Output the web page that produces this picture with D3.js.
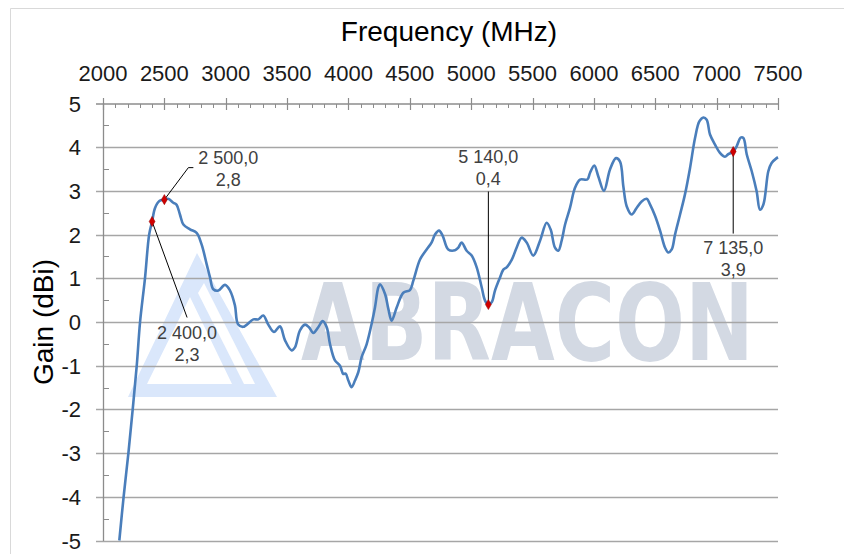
<!DOCTYPE html>
<html>
<head>
<meta charset="utf-8">
<script src="https://cdn.jsdelivr.net/npm/d3@7"></script>
<style>
  body { margin: 0; background: #fff; }
  svg { display: block; font-family: "Liberation Sans", Arial, sans-serif; }
</style>
</head>
<body>
<svg id="chart"></svg>
<script>
// gain curve
var freq = [2133, 2168, 2207, 2242, 2275, 2302, 2342, 2376, 2400, 2424, 2459, 2500, 2530, 2573, 2600, 2627, 2655, 2709, 2763, 2804,
    2845, 2872, 2899, 2940, 2994, 3035, 3075, 3100, 3143, 3225, 3265, 3306, 3347, 3393, 3442, 3483, 3537, 3564, 3605, 3646,
    3678, 3714, 3754, 3790, 3823, 3850, 3890, 3931, 3958, 3977, 3999, 4026, 4053, 4080, 4108, 4148, 4189, 4216, 4243, 4257,
    4298, 4325, 4352, 4393, 4447, 4501, 4528, 4583, 4637, 4678, 4705, 4738, 4768, 4813, 4868, 4895, 4922, 4963, 5004, 5045,
    5086, 5113, 5140, 5167, 5194, 5235, 5262, 5289, 5330, 5370, 5411, 5452, 5506, 5561, 5615, 5647, 5683, 5710, 5737, 5765,
    5805, 5846, 5887, 5946, 5968, 6003, 6036, 6082, 6131, 6180, 6213, 6240, 6267, 6308, 6348, 6389, 6430, 6457, 6498, 6539,
    6580, 6607, 6634, 6661, 6702, 6742, 6783, 6824, 6859, 6892, 6919, 6946, 6987, 7027, 7068, 7095, 7135, 7163, 7196, 7218,
    7245, 7286, 7326, 7353, 7381, 7421, 7448, 7489, 7500];
var gain = [-5.0, -4.0, -3.0, -2.0, -1.0, 0.0, 1.0, 2.0, 2.3, 2.61, 2.77, 2.8, 2.82, 2.73, 2.68, 2.46, 2.23, 2.12, 2.04, 1.77,
    1.32, 1.02, 0.75, 0.72, 0.85, 0.72, 0.38, -0.05, -0.11, 0.06, 0.06, 0.15, -0.06, -0.23, -0.10, -0.42, -0.65, -0.58, -0.19, -0.06,
    -0.12, -0.25, -0.12, 0.02, -0.12, -0.51, -0.88, -1.0, -1.19, -1.18, -1.34, -1.49, -1.34, -1.15, -0.80, -0.51, -0.04, 0.33, 0.79, 0.86,
    0.64, 0.30, 0.03, 0.33, 0.67, 0.73, 0.94, 1.43, 1.66, 1.82, 2.0, 2.09, 1.97, 1.66, 1.64, 1.70, 1.82, 1.63, 1.52, 1.25,
    0.79, 0.49, 0.4, 0.45, 0.72, 1.02, 1.2, 1.25, 1.42, 1.7, 1.93, 1.82, 1.52, 1.86, 2.27, 2.12, 1.70, 1.63, 1.86, 2.23,
    2.61, 3.07, 3.26, 3.26, 3.41, 3.58, 3.33, 3.0, 3.49, 3.75, 3.67, 3.1, 2.65, 2.46, 2.61, 2.76, 2.82, 2.69, 2.43, 2.09,
    1.70, 1.59, 1.66, 2.0, 2.46, 2.92, 3.52, 4.21, 4.59, 4.68, 4.63, 4.29, 4.06, 3.87, 3.78, 3.84, 3.9, 4.02, 4.22, 4.21,
    3.84, 3.45, 2.99, 2.57, 2.69, 3.45, 3.64, 3.75, 3.77];

// marked points
var markFreq = [2400, 2500, 5140, 7135];
var markGain = [2.3, 2.8, 0.4, 3.9];
var markText = [["2 400,0", "2,3"], ["2 500,0", "2,8"], ["5 140,0", "0,4"], ["7 135,0", "3,9"]];

var xTicks = [2000, 2500, 3000, 3500, 4000, 4500, 5000, 5500, 6000, 6500, 7000, 7500];
var yTicks = [5, 4, 3, 2, 1, 0, -1, -2, -3, -4, -5];

// where each callout sits relative to its marker (px)
var callout = [
    { dx: 35, lineTo: [[35, 96]], ty: 118 },
    { dx: 64, lineTo: [[24, -32], [29, -32]], ty: -36 },
    { dx: 0, lineTo: [[0, -113]], ty: -142 },
    { dx: 0, lineTo: [[0, 82]], ty: 102 }
];

var W = 844, H = 554;
var svg = d3.select("svg#chart").attr("width", W).attr("height", H);

var x = d3.scaleLinear().domain([2000, 7500]).range([103, 778]);
var y = d3.scaleLinear().domain([-5, 5]).range([540.5, 103.5]);

// chart border (top / left)
svg.append("path").attr("d", "M10.5,554 V8.5 H844")
    .attr("fill", "none").attr("stroke", "#d9d9d9").attr("stroke-width", 1);

// watermark
var wm = svg.append("g");
wm.append("path")
    .attr("d", "M128,397 L197,253 L277,397 Z M147,384 L190,297 L232,384 Z")
    .attr("fill", "#dae7fb").attr("fill-rule", "evenodd");
wm.append("path")
    .attr("d", "M204,283 L255,384 L244,384 L198,293 Z")
    .attr("fill", "#fff");
wm.append("text")
    .attr("x", 301).attr("y", 360)
    .attr("textLength", 453).attr("lengthAdjust", "spacingAndGlyphs")
    .attr("font-family", "'DejaVu Sans', sans-serif")
    .attr("font-size", 107).attr("font-weight", "bold")
    .attr("fill", "#d3d9e3")
    .text("ABRACON");

// gridlines
svg.append("g").selectAll("line").data(yTicks.slice(1))
    .enter().append("line")
    .attr("x1", 96).attr("x2", 778)
    .attr("y1", function(d) { return Math.round(y(d)) + 0.5; })
    .attr("y2", function(d) { return Math.round(y(d)) + 0.5; })
    .attr("stroke", "#a6a6a6").attr("stroke-width", 1.3);

// y axis
var yMinor = d3.range(-4.5, 5, 1);
svg.append("g").selectAll("line").data(yMinor)
    .enter().append("line")
    .attr("x1", 103).attr("x2", 109)
    .attr("y1", function(d) { return Math.round(y(d)) + 0.5; })
    .attr("y2", function(d) { return Math.round(y(d)) + 0.5; })
    .attr("stroke", "#8c8c8c");
svg.append("line").attr("x1", 103.5).attr("x2", 103.5).attr("y1", 103).attr("y2", 541)
    .attr("stroke", "#8c8c8c").attr("stroke-width", 1.3);

svg.append("g").selectAll("text").data(yTicks)
    .enter().append("text")
    .attr("x", 81).attr("y", function(d) { return y(d) + 8; })
    .attr("text-anchor", "end")
    .attr("font-size", 22).attr("fill", "#1a1a1a")
    .text(function(d) { return d; });

// x axis on top
var xMinor = d3.range(2100, 7500, 100).filter(function(d) { return d % 500 !== 0; });
svg.append("g").selectAll("line").data(xMinor)
    .enter().append("line")
    .attr("x1", function(d) { return Math.round(x(d)) + 0.5; })
    .attr("x2", function(d) { return Math.round(x(d)) + 0.5; })
    .attr("y1", 104).attr("y2", 108)
    .attr("stroke", "#8c8c8c");
svg.append("g").selectAll("line").data(xTicks)
    .enter().append("line")
    .attr("x1", function(d) { return Math.round(x(d)) + 0.5; })
    .attr("x2", function(d) { return Math.round(x(d)) + 0.5; })
    .attr("y1", 98).attr("y2", 110)
    .attr("stroke", "#8c8c8c").attr("stroke-width", 1.2);
svg.append("line").attr("x1", 96).attr("x2", 778).attr("y1", 104).attr("y2", 104)
    .attr("stroke", "#8c8c8c").attr("stroke-width", 1.3);

svg.append("g").selectAll("text").data(xTicks)
    .enter().append("text")
    .attr("x", function(d) { return x(d); }).attr("y", 81)
    .attr("text-anchor", "middle")
    .attr("font-size", 22).attr("fill", "#1a1a1a")
    .text(function(d) { return d; });

// titles
svg.append("text").attr("x", 449).attr("y", 41)
    .attr("text-anchor", "middle").attr("font-size", 28).attr("fill", "#000")
    .text("Frequency (MHz)");
svg.append("text")
    .attr("transform", "translate(53,322) rotate(-90)")
    .attr("text-anchor", "middle").attr("font-size", 28).attr("fill", "#000")
    .text("Gain (dBi)");

// curve
svg.append("clipPath").attr("id", "plot")
    .append("rect").attr("x", 103).attr("y", 95).attr("width", 690).attr("height", 446);

var pts = freq.map(function(f, i) { return [f, gain[i]]; });
var line = d3.line()
    .x(function(d) { return x(d[0]); })
    .y(function(d) { return y(d[1]); })
    .curve(d3.curveCatmullRom.alpha(0.5));

svg.append("path").datum(pts)
    .attr("clip-path", "url(#plot)")
    .attr("d", line)
    .attr("fill", "none").attr("stroke", "#4a7ebb")
    .attr("stroke-width", 2.6).attr("stroke-linejoin", "round");

// callouts
var marks = svg.append("g");
markFreq.forEach(function(f, i) {
    var mx = x(f), my = y(markGain[i]), c = callout[i];
    var d = "M" + mx + "," + my;
    c.lineTo.forEach(function(p) { d += " L" + (mx + p[0]) + "," + (my + p[1]); });
    marks.append("path").attr("d", d).attr("fill", "none")
        .attr("stroke", "#000").attr("stroke-width", 1);
    marks.append("path")
        .attr("d", d3.symbol().type(d3.symbolDiamond).size(30)())
        .attr("transform", "translate(" + mx + "," + my + ")")
        .attr("fill", "#d00000").attr("stroke", "#900000").attr("stroke-width", 0.5);
    var t = marks.append("text")
        .attr("x", mx + c.dx).attr("y", my + c.ty)
        .attr("text-anchor", "middle").attr("font-size", 18).attr("fill", "#404040");
    t.append("tspan").attr("x", mx + c.dx).text(markText[i][0]);
    t.append("tspan").attr("x", mx + c.dx).attr("dy", 22).text(markText[i][1]);
});
</script>
</body>
</html>
